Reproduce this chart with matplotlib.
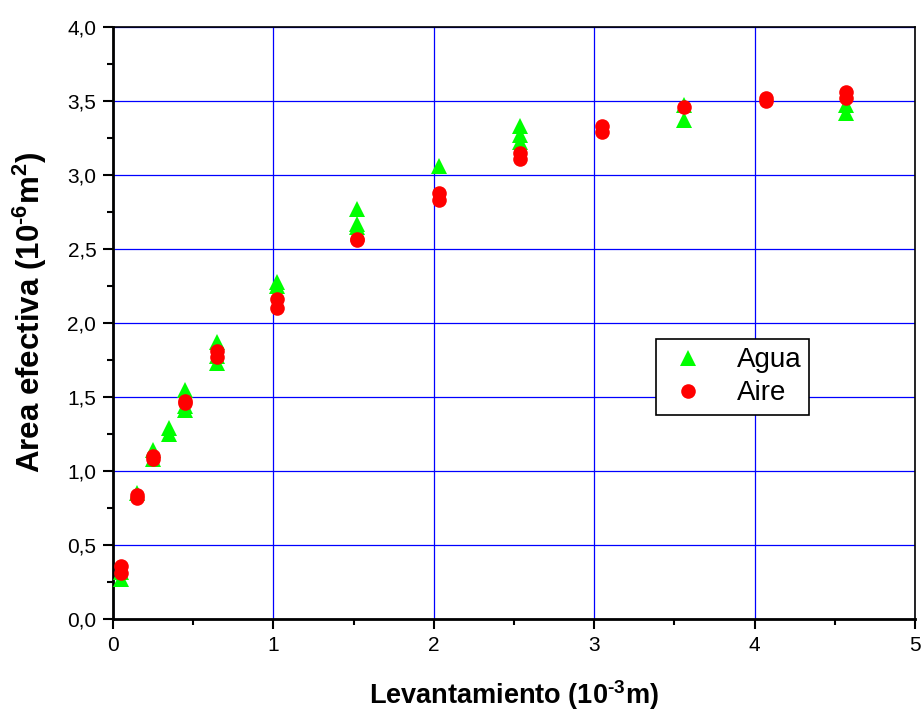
import matplotlib
matplotlib.use('Agg')
import matplotlib.pyplot as plt
from matplotlib.ticker import MultipleLocator, FuncFormatter

plt.rcParams['font.family'] = ['Liberation Sans', 'DejaVu Sans']
plt.rcParams['mathtext.fontset'] = 'custom'
plt.rcParams['mathtext.rm'] = 'Liberation Sans:bold'
plt.rcParams['mathtext.bf'] = 'Liberation Sans:bold'
plt.rcParams['mathtext.default'] = 'bf'

# Agua (triangles)
agua_x = [0.05, 0.05, 0.15, 0.25, 0.25, 0.35, 0.35, 0.45, 0.45, 0.45,
          0.65, 0.65, 0.65, 1.02, 1.02, 1.52, 1.52, 1.52, 2.03,
          2.54, 2.54, 2.54, 3.56, 3.56, 4.57, 4.57]
agua_y = [0.27, 0.32, 0.85, 1.14, 1.08, 1.29, 1.25, 1.55, 1.41, 1.44,
          1.87, 1.73, 1.78, 2.28, 2.25, 2.77, 2.67, 2.65, 3.06,
          3.33, 3.27, 3.22, 3.47, 3.37, 3.47, 3.42]

# Aire (circles)
aire_x = [0.05, 0.05, 0.15, 0.15, 0.25, 0.25, 0.45, 0.45, 0.65, 0.65,
          1.02, 1.02, 1.52, 1.52, 2.03, 2.03, 2.54, 2.54, 3.05, 3.05,
          3.56, 4.07, 4.07, 4.57, 4.57]
aire_y = [0.36, 0.31, 0.84, 0.82, 1.10, 1.08, 1.47, 1.46, 1.81, 1.77,
          2.16, 2.10, 2.57, 2.56, 2.88, 2.83, 3.15, 3.11, 3.33, 3.29,
          3.46, 3.52, 3.50, 3.56, 3.52]

fig = plt.figure(figsize=(9.22, 7.13), dpi=100)
ax = fig.add_axes([0.1226, 0.1318, 0.8698, 0.8303])

ax.plot(agua_x, agua_y, linestyle='none', marker='^', color='#00ff00',
        markersize=11, markeredgewidth=0, label='Agua', zorder=3)
ax.plot(aire_x, aire_y, linestyle='none', marker='o', color='#ff0000',
        markersize=10.5, markeredgewidth=0, label='Aire', zorder=4)

ax.set_xlim(0, 5)
ax.set_ylim(0, 4)
ax.xaxis.set_major_locator(MultipleLocator(1))
ax.xaxis.set_minor_locator(MultipleLocator(0.5))
ax.yaxis.set_major_locator(MultipleLocator(0.5))
ax.yaxis.set_minor_locator(MultipleLocator(0.25))
ax.yaxis.set_major_formatter(FuncFormatter(lambda v, p: f'{v:.1f}'.replace('.', ',')))

ax.grid(True, which='major', color='#0000ff', linewidth=0.9)
ax.set_axisbelow(True)

ax.tick_params(which='major', direction='out', length=7, width=1.5, labelsize=15, pad=5)
ax.tick_params(which='minor', direction='out', length=4, width=1.5)
ax.tick_params(top=False, right=False, which='both')
for side in ['left', 'bottom']:
    ax.spines[side].set_linewidth(2)
for side in ['top', 'right']:
    ax.spines[side].set_linewidth(1.2)

ax.set_xlabel(r'Levantamiento (10$^{\text{-}3}$m)', fontsize=19.5, fontweight='bold', labelpad=17)
ax.set_ylabel(r'Area efectiva (10$^{\text{-}6}$m$^{2}$)', fontsize=22.5, fontweight='bold')
ax.yaxis.set_label_coords(-0.08, 0.517)

leg = ax.legend(loc='upper left', bbox_to_anchor=(0.677, 0.473), fontsize=20,
                frameon=True, fancybox=False, edgecolor='black', framealpha=1,
                handletextpad=0.9, borderpad=0.3, labelspacing=0.25, handlelength=1.7,
                borderaxespad=0)
leg.get_frame().set_linewidth(1.2)

fig.savefig('out.png', dpi=100)
